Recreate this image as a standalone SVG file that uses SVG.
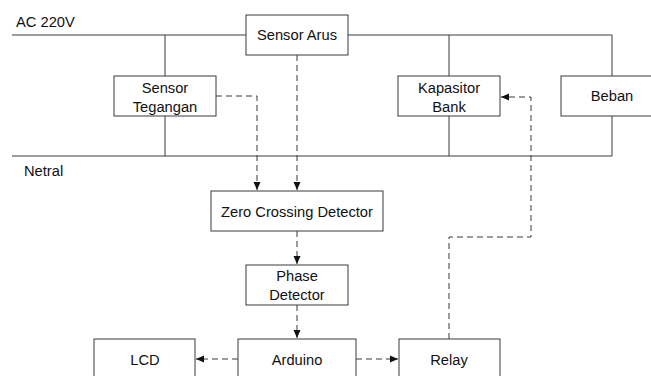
<svg xmlns="http://www.w3.org/2000/svg" width="651" height="376" viewBox="0 0 651 376">
<style>
.box{fill:#fff;stroke:#3a3a3a;stroke-width:1}
.wire{fill:none;stroke:#3a3a3a;stroke-width:1}
.sig{fill:none;stroke:#3a3a3a;stroke-width:1;stroke-dasharray:6,4}
text{font-family:"Liberation Sans",Arial,sans-serif;font-size:14.7px;fill:#111;text-anchor:middle}
.lbl{text-anchor:start}
</style>
<defs>
<marker id="ah" viewBox="0 0 8 8" refX="8" refY="4" markerWidth="8" markerHeight="8" markerUnits="userSpaceOnUse" orient="auto">
<path d="M0,0.5 L8,4 L0,7.5 Z" fill="#111"/>
</marker>
</defs>
<g id="connectors">
<path class="wire" d="M12,35 H246 M348,35 H612 V76 M612,116 V156 H12"/>
<path class="wire" d="M165,35 V76 M165,116 V156"/>
<path class="wire" d="M449,35 V76 M449,116 V156"/>
<path class="sig" d="M216,96 H257 V190" marker-end="url(#ah)"/>
<path class="sig" d="M297,55 V190" marker-end="url(#ah)"/>
<path class="sig" d="M297,231 V264" marker-end="url(#ah)"/>
<path class="sig" d="M297,305 V338" marker-end="url(#ah)"/>
<path class="sig" d="M238,359 H196" marker-end="url(#ah)"/>
<path class="sig" d="M356,359 H398" marker-end="url(#ah)"/>
<path class="sig" d="M449,339 V237 H531 V97 H501" marker-end="url(#ah)"/>
</g>
<text class="lbl" x="16" y="27">AC 220V</text>
<text class="lbl" x="24" y="176">Netral</text>
<g id="sensor-arus"><rect class="box" x="246" y="15" width="102" height="40"/><text x="297" y="40">Sensor Arus</text></g>
<g id="sensor-tegangan"><rect class="box" x="114" y="76" width="102" height="40"/><text x="165" y="93">Sensor</text><text x="165" y="112">Tegangan</text></g>
<g id="kapasitor-bank"><rect class="box" x="398" y="76" width="102" height="40"/><text x="449" y="93">Kapasitor</text><text x="449" y="112">Bank</text></g>
<g id="beban"><rect class="box" x="561" y="76" width="102" height="40"/><text x="612" y="101">Beban</text></g>
<g id="zcd"><rect class="box" x="211" y="191" width="172" height="40"/><text x="297" y="217">Zero Crossing Detector</text></g>
<g id="phase-detector"><rect class="box" x="246" y="265" width="102" height="40"/><text x="297" y="281">Phase</text><text x="297" y="300">Detector</text></g>
<g id="lcd"><rect class="box" x="94" y="339" width="101" height="40"/><text x="145" y="365">LCD</text></g>
<g id="arduino"><rect class="box" x="238" y="339" width="118" height="40"/><text x="297" y="365">Arduino</text></g>
<g id="relay"><rect class="box" x="399" y="339" width="101" height="40"/><text x="449" y="365">Relay</text></g>
</svg>
